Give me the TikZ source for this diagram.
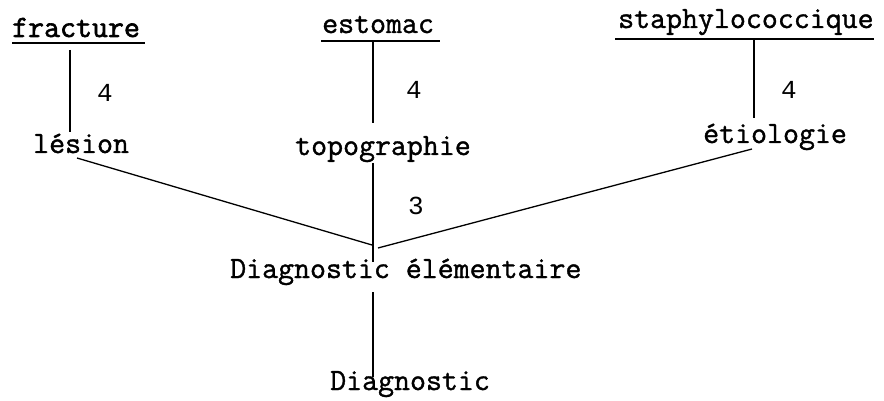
\documentclass[tikz,border=0pt]{standalone}
\usepackage{fontspec}
\newfontfamily\tw{Latin Modern Mono}[FakeBold=1.2]
\newfontfamily\twb{Latin Modern Mono}[FakeBold=2]
\newfontfamily\dg{Liberation Mono}
\usetikzlibrary{calc}
\begin{document}
\begin{tikzpicture}[x=1pt,y=-1pt,
  txt/.style={inner sep=0pt, anchor=base west, font=\tw\fontsize{31}{34}\selectfont},
  hd/.style={txt, font=\twb\fontsize{31}{34}\selectfont},
  num/.style={inner sep=0pt, font=\dg\fontsize{26}{30}\selectfont},
  ln/.style={line width=1.3pt},
  ul/.style={line width=1.8pt}]
\useasboundingbox (0,0) rectangle (884,401);
% text nodes
\node[hd] (fracture) at (12,37) {fracture};
\node[txt] (estomac) at (322,33) {estomac};
\node[txt] (staph) at (618,28) {staphylococcique};
\node[txt] (lesion) at (33,153) {lésion};
\node[txt] (topo) at (295,155) {topographie};
\node[txt] (etio) at (703,143) {étiologie};
\node[txt] (diagel) at (230,278) {Diagnostic élémentaire};
\node[txt] (diag) at (330,390) {Diagnostic};
% weights
\node[num] (n1) at (105,93) {4};
\node[num] (n2) at (414,90) {4};
\node[num] (n3) at (789,90) {4};
\node[num] (n4) at (416,206) {3};
% x positions of the vertical strokes
\coordinate (xf) at (70,0);
\coordinate (xe) at (373,0);
\coordinate (xs) at (754,0);
% underlines
\draw[ul] ($(fracture.base west)+(0,6)$) -- ($(fracture.base east)+(5,6)$);
\draw[ul] ($(estomac.base west)+(-1,8)$) -- ($(estomac.base east)+(6,8)$);
\draw[ul] ($(staph.base west)+(-3,11)$) -- ($(staph.base east)+(0,11)$);
% verticals
\draw[ln] ($(fracture.base -| xf)+(0,13)$) -- ($(lesion.base -| xf)+(0,-21)$);
\draw[ln] ($(estomac.base -| xe)+(0,8)$) -- ($(topo.base -| xe)+(0,-32)$);
\draw[ln] ($(staph.base -| xs)+(0,12)$) -- ($(etio.base -| xs)+(0,-25)$);
\draw[ln] ($(topo.base -| xe)+(0,8)$) -- ($(diagel.base -| xe)+(0,-16)$);
\draw[ln] ($(diagel.base -| xe)+(0,14)$) -- ($(diag.base -| xe)+(0,-13)$);
% diagonals
\draw[ln] ($(lesion.base west)+(44,5)$) -- ($(diagel.base -| xe)+(-1,-33)$);
\draw[ln] ($(etio.base west)+(49,6)$) -- ($(diagel.base -| xe)+(5,-30)$);
\end{tikzpicture}
\end{document}
